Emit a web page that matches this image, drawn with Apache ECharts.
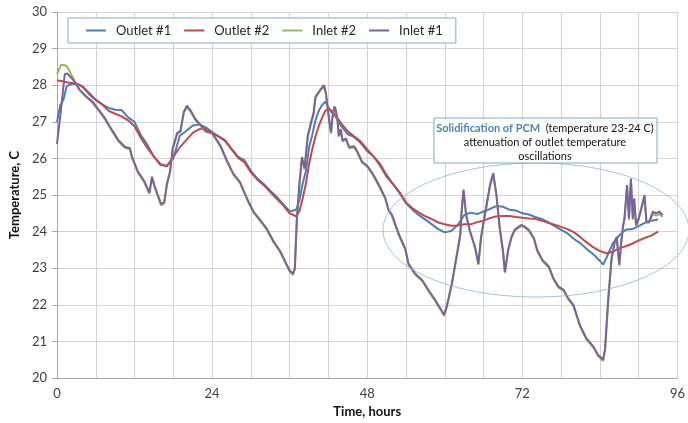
<!DOCTYPE html>
<html>
<head>
<meta charset="utf-8">
<script src="https://cdn.jsdelivr.net/npm/echarts@6/dist/echarts.min.js"></script>
<style>
  html, body { margin: 0; padding: 0; background: #fff; }
  #chart { width: 688px; height: 423px; }
</style>
</head>
<body>
<div id="chart"></div>
<script>
// outlet series (smooth) share one time base
const outletHours = [0, 0.5, 1, 1.5, 2, 3, 4, 5, 6, 7, 8, 9, 10, 11, 12, 13, 14, 15, 16, 17, 18, 19, 20, 21, 22, 23,
  24, 25, 26, 27, 28, 29, 30, 31, 32, 33, 34, 35, 36, 37, 37.5, 38, 38.5, 39, 39.5, 40, 40.5, 41, 41.5, 42, 42.5, 43,
  44, 45, 46, 47, 48, 49, 50, 51, 52, 53, 54, 55, 56, 57, 58, 59, 60, 61, 62, 63, 64, 65, 66, 67, 68, 69, 70, 71,
  72, 73, 74, 75, 76, 77, 78, 79, 80, 81, 82, 83, 84, 84.5, 85, 86, 87, 88, 89, 90, 91, 92, 93]
const outlet1 = [27.0, 27.45, 27.6, 27.97, 28.02, 28.05, 27.95, 27.75, 27.6, 27.48, 27.38, 27.33, 27.32, 27.12, 27.0, 26.63, 26.37, 26.05, 25.82, 25.8, 26.0, 26.62, 26.75, 26.9, 26.93, 26.85,
  26.72, 26.6, 26.5, 26.27, 26.05, 25.95, 25.66, 25.45, 25.3, 25.12, 24.95, 24.75, 24.55, 24.6, 24.85, 25.3, 25.65, 26.3, 26.65, 27.05, 27.3, 27.45, 27.55, 27.4, 27.25, 27.17,
  26.88, 26.66, 26.58, 26.42, 26.2, 26.05, 25.85, 25.55, 25.3, 25.05, 24.78, 24.6, 24.45, 24.33, 24.2, 24.07, 23.98, 24.02, 24.18, 24.45, 24.52, 24.48, 24.55, 24.62, 24.7, 24.68, 24.6, 24.58,
  24.5, 24.47, 24.4, 24.35, 24.26, 24.15, 24.05, 23.95, 23.8, 23.68, 23.52, 23.38, 23.2, 23.1, 23.28, 23.68, 23.9, 24.05, 24.07, 24.15, 24.25, 24.3, 24.33]
const outlet2 = [28.13, 28.12, 28.1, 28.08, 28.07, 28.05, 27.96, 27.78, 27.6, 27.47, 27.3, 27.22, 27.15, 27.04, 26.88, 26.55, 26.28, 26.05, 25.85, 25.78, 26.05, 26.3, 26.5, 26.7, 26.8, 26.82,
  26.7, 26.6, 26.48, 26.25, 26.02, 25.9, 25.62, 25.42, 25.27, 25.08, 24.9, 24.72, 24.5, 24.42, 24.55, 24.9, 25.3, 25.85, 26.25, 26.6, 26.88, 27.1, 27.3, 27.36, 27.3, 27.2,
  26.95, 26.74, 26.6, 26.46, 26.25, 26.05, 25.8, 25.5, 25.3, 25.08, 24.8, 24.64, 24.52, 24.42, 24.34, 24.25, 24.2, 24.16, 24.17, 24.2, 24.2, 24.26, 24.3, 24.37, 24.42, 24.43, 24.43, 24.4,
  24.38, 24.36, 24.35, 24.3, 24.24, 24.19, 24.13, 24.07, 23.98, 23.85, 23.7, 23.57, 23.47, 23.44, 23.41, 23.45, 23.55, 23.6, 23.67, 23.76, 23.83, 23.9, 24.0]

// inlet series (spiky) share another time base
const inletHours = [0, 0.6, 1.2, 1.6, 2.5, 3.5, 4.5, 5.5, 6.5, 7.5, 8.5, 9.5, 10.5, 11.3, 11.6, 12.5, 13.5, 14.3, 14.7, 15.1,
  15.6, 16.1, 16.6, 17.0, 17.5, 17.9, 18.6, 19.1, 19.6, 20.1, 20.7, 21.4, 22.2, 23, 24, 25.3, 26.3, 27.3, 28.3, 29.4,
  30.4, 31.4, 32.4, 33.5, 34.5, 35.5, 36, 36.5, 36.8, 37.1, 37.5, 37.9, 38.3, 38.8, 39.3, 39.7, 40, 40.7, 41.3, 41.6,
  41.8, 42.1, 42.4, 42.6, 42.9, 43.1, 43.4, 43.6, 43.9, 44.2, 44.7, 45.2, 46, 46.5, 47.2, 48, 48.8, 49.8, 50.8, 51.3,
  51.8, 52.9, 53.9, 54.4, 55.4, 56.5, 57.5, 58.5, 59.3, 59.9, 60.3, 61.1, 61.8, 62.4, 62.6, 62.9, 63.3, 63.9, 64.7, 65.2,
  65.6, 66.2, 67, 67.5, 68, 68.5, 69, 69.3, 69.8, 70.3, 70.8, 71.3, 71.8, 72.3, 73, 73.8, 74.3, 75.1, 76.1, 76.8,
  77.6, 78.4, 79.1, 79.9, 80.9, 81.9, 83, 83.7, 84.5, 84.8, 85.3, 85.8, 86.3, 86.6, 87, 87.3, 87.6, 87.8, 88.2, 88.5,
  88.8, 89.1, 89.3, 89.6, 90, 90.4, 90.9, 91.2, 91.6, 92.2, 92.7, 93.2, 93.7]
const inlet2 = [28.3, 28.55, 28.55, 28.5, 28.2, 27.86, 27.68, 27.52, 27.29, 27.05, 26.75, 26.47, 26.29, 26.25, 26.02, 25.62, 25.35, 25.03, 25.46, 25.22,
  24.97, 24.72, 24.77, 25.27, 25.62, 26.25, 26.67, 26.72, 27.23, 27.41, 27.27, 27.05, 26.89, 26.72, 26.68, 26.32, 25.91, 25.55, 25.33, 24.88,
  24.52, 24.3, 24.07, 23.71, 23.45, 23.09, 22.91, 22.82, 22.97, 24.27, 25.25, 26.0, 25.7, 26.58, 26.95, 27.21, 27.66, 27.84, 27.97, 27.77,
  27.48, 27.04, 26.68, 27.07, 27.39, 27.32, 27.04, 26.59, 26.77, 26.46, 26.52, 26.28, 26.3, 26.15, 25.88, 25.77, 25.57, 25.25, 24.89, 24.57,
  24.44, 23.9, 23.5, 23.09, 22.83, 22.65, 22.37, 22.11, 21.88, 21.7, 21.93, 22.56, 23.27, 23.9, 24.52, 25.1, 24.44, 23.99, 23.54, 23.09,
  23.81, 24.44, 25.24, 25.56, 24.97, 24.08, 23.45, 22.87, 23.47, 23.82, 24.02, 24.09, 24.15, 24.12, 24.02, 23.79, 23.47, 23.2, 23.02, 22.7,
  22.47, 22.38, 22.15, 21.97, 21.42, 21.06, 20.83, 20.61, 20.47, 20.77, 22.15, 23.24, 23.7, 23.83, 23.07, 23.7, 24.15, 24.33, 25.22, 24.33,
  25.4, 24.33, 24.86, 24.15, 24.33, 24.6, 24.95, 24.24, 24.24, 24.48, 24.44, 24.48, 24.4]
const inlet1 = [26.4, 27.3, 28.3, 28.32, 28.15, 27.88, 27.7, 27.55, 27.32, 27.08, 26.78, 26.5, 26.32, 26.28, 26.05, 25.65, 25.38, 25.07, 25.5, 25.25,
  25.0, 24.76, 24.8, 25.3, 25.65, 26.28, 26.7, 26.75, 27.26, 27.44, 27.3, 27.08, 26.92, 26.75, 26.7, 26.35, 25.94, 25.58, 25.36, 24.91,
  24.55, 24.33, 24.1, 23.74, 23.48, 23.12, 22.94, 22.85, 23.0, 24.3, 25.29, 26.04, 25.73, 26.62, 26.98, 27.24, 27.69, 27.87, 28.0, 27.8,
  27.51, 27.07, 26.71, 27.1, 27.42, 27.35, 27.07, 26.62, 26.8, 26.49, 26.55, 26.31, 26.33, 26.18, 25.91, 25.8, 25.6, 25.28, 24.92, 24.6,
  24.47, 23.93, 23.53, 23.12, 22.86, 22.68, 22.4, 22.14, 21.91, 21.73, 21.96, 22.59, 23.3, 23.93, 24.56, 25.15, 24.47, 24.02, 23.57, 23.12,
  23.84, 24.47, 25.28, 25.6, 25.0, 24.11, 23.48, 22.9, 23.5, 23.85, 24.05, 24.12, 24.18, 24.15, 24.05, 23.82, 23.5, 23.23, 23.05, 22.73,
  22.5, 22.41, 22.18, 22.0, 21.45, 21.09, 20.86, 20.64, 20.5, 20.8, 22.18, 23.27, 23.73, 23.86, 23.1, 23.73, 24.18, 24.36, 25.27, 24.36,
  25.45, 24.36, 24.91, 24.18, 24.36, 24.64, 25.0, 24.27, 24.27, 24.55, 24.5, 24.55, 24.45]

const seriesNames = ['Outlet #1', 'Outlet #2', 'Inlet #2', 'Inlet #1']
const seriesColors = ['#4a7ebb', '#be4b48', '#98b954', '#7d60a0']
const xTicks = [0, 24, 48, 72, 96]

function pairs(hours, values) {
  return hours.map((h, i) => [h, values[i]])
}

const chart = echarts.init(document.getElementById('chart'))
const font = 'Lato, "Liberation Sans", sans-serif'

let seriesData = [
  pairs(outletHours, outlet1),
  pairs(outletHours, outlet2),
  pairs(inletHours, inlet2),
  pairs(inletHours, inlet1)
]

chart.setOption({
  animation: false,
  textStyle: { fontFamily: font },
  grid: { left: 54, right: 6, top: 12, bottom: 42 },
  legend: {
    left: 68, top: 18,
    padding: [6, 13, 6, 18],
    icon: 'rect',
    itemWidth: 20, itemHeight: 2, itemGap: 13,
    borderColor: '#8aa6c8', borderWidth: 1,
    backgroundColor: '#fff',
    textStyle: { fontFamily: font, fontSize: 13, color: '#262626', padding: [0, 0, 0, 5] },
    data: seriesNames
  },
  xAxis: {
    type: 'value', min: 0, max: 96, interval: 6,
    name: 'Time, hours', nameLocation: 'middle', nameGap: 22,
    nameTextStyle: { fontFamily: font, fontSize: 13, fontWeight: 'bold', color: '#111' },
    axisLine: { lineStyle: { color: '#a6a6a6' } },
    axisTick: { show: false },
    axisLabel: {
      margin: 9, fontSize: 13, color: '#404040',
      formatter: v => xTicks.indexOf(v) >= 0 ? String(v) : ''
    },
    splitLine: { show: true, lineStyle: { color: '#d4d4d4' } }
  },
  yAxis: {
    type: 'value', min: 20, max: 30, interval: 1,
    name: 'Temperature, C', nameLocation: 'middle', nameGap: 30, nameRotate: 90,
    nameTextStyle: { fontFamily: font, fontSize: 13, fontWeight: 'bold', color: '#111' },
    axisLine: { show: true, lineStyle: { color: '#a6a6a6' } },
    axisTick: { show: true, length: 5, lineStyle: { color: '#a6a6a6' } },
    axisLabel: { margin: 10, fontSize: 13, color: '#404040' },
    splitLine: { show: true, lineStyle: { color: '#d4d4d4' } }
  },
  series: seriesNames.map((name, i) => ({
    name: name,
    type: 'line',
    data: seriesData[i],
    symbol: 'none',
    color: seriesColors[i],
    lineStyle: { width: 2, color: seriesColors[i] }
  })),
  graphic: [
    {
      type: 'ellipse', silent: true, z: 50,
      shape: { cx: 536, cy: 230, rx: 153, ry: 67 },
      style: { fill: 'none', stroke: '#8fb2d4', lineWidth: 0.8 }
    },
    {
      type: 'rect', z: 60,
      shape: { x: 434, y: 118, width: 223, height: 45 },
      style: { fill: '#fff', stroke: '#7ea6d1', lineWidth: 1 }
    },
    {
      type: 'text', z: 61,
      x: 545, y: 121,
      style: {
        text: '{b|Solidification of PCM}  (temperature 23-24 C)\nattenuation of outlet temperature\noscillations',
        align: 'center',
        fontFamily: font, fontSize: 11, lineHeight: 14, fill: '#111',
        rich: {
          b: { fontFamily: font, fontSize: 11, fontWeight: 'bold', fill: '#4f81bd', lineHeight: 14 }
        }
      }
    }
  ]
})
</script>
</body>
</html>
